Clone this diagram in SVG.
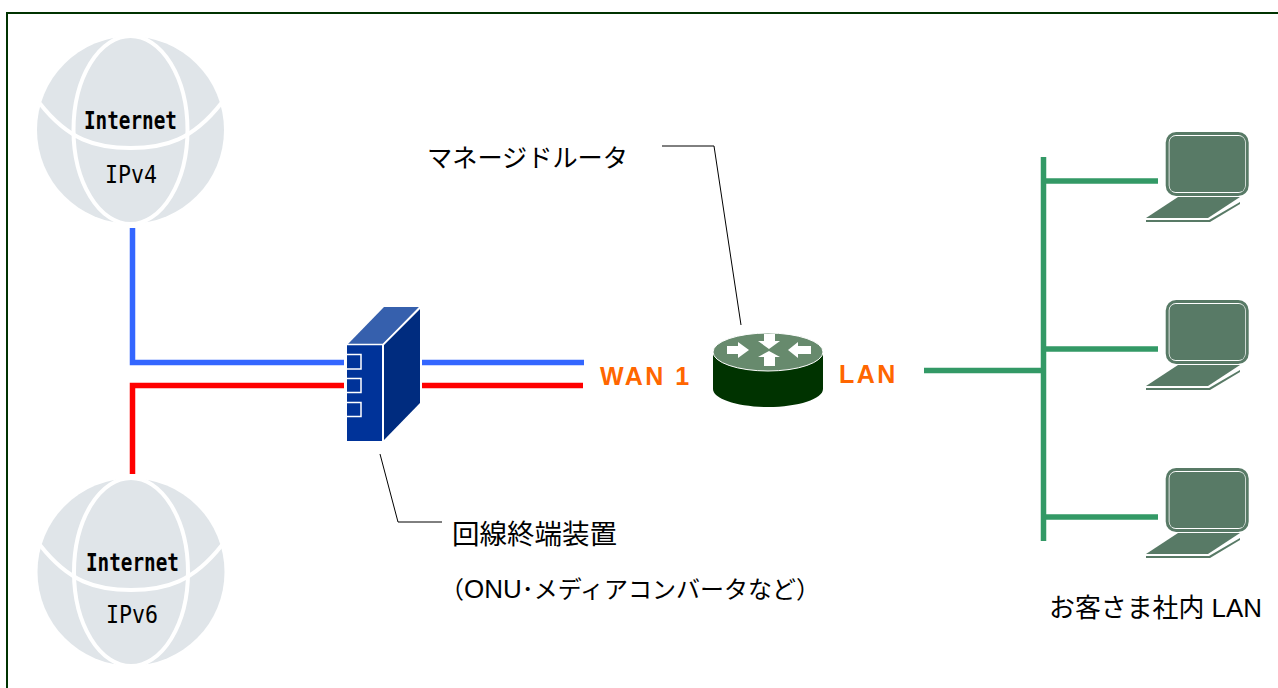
<svg xmlns="http://www.w3.org/2000/svg" width="1278" height="688" viewBox="0 0 1278 688">
<style>
text{font-family:"Liberation Sans","Noto Sans CJK JP",sans-serif;fill:#000}
.g{fill:#e0e5e9;stroke:none}
.w{fill:none;stroke:#fff;stroke-width:4}
.net{font-family:"DejaVu Sans Mono",monospace;font-size:24.500px;font-weight:700}
.ip{font-family:"DejaVu Sans Mono",monospace;font-size:24.500px}
.or{font-size:25px;font-weight:700;fill:#ff6600;letter-spacing:2.500px}
.ln{fill:none;stroke-width:5.500}
.call{fill:none;stroke:#000;stroke-width:1}
.scr{fill:#587a66}
</style>
<defs>
<g id="globe">
<circle class="g" cx="0" cy="0" r="93.500"/>
<ellipse class="w" cx="0" cy="0" rx="57" ry="94"/>
<path class="w" d="M-91-27C-62 10-35 18 0 18S62 10 91-27"/>
</g>
<g id="laptop">
<rect x="1167.200" y="133.500" width="80" height="61" rx="9" fill="none" stroke="#587a66" stroke-width="3"/>
<rect x="1169.500" y="136" width="75.500" height="56" rx="6" class="scr"/>
<path class="scr" d="M1178 197H1240L1208 218H1146Z"/>
<path class="scr" d="M1146 220H1209L1240 202V204L1210 222H1146Z"/>
</g>
</defs>
<rect x="7" y="13" width="1290" height="700" fill="#fff" stroke="#003300" stroke-width="2"/>
<g id="connectors">
<path class="ln" stroke="#3366ff" d="M132.500 228V362.500H344"/>
<path class="ln" stroke="#ff0000" d="M132.500 474V385.500H344"/>
<path class="ln" stroke="#3366ff" d="M422 362.500H584"/>
<path class="ln" stroke="#ff0000" d="M422 385.500H583"/>
<path class="ln" stroke="#339966" d="M924 370.500H1043M1043.500 157V541M1043 181H1158M1043 349H1158M1043 517H1158"/>
<path class="call" d="M662 146H714L741 325"/>
<path class="call" d="M380 454L398 522H442"/>
</g>
<g id="internet-v4">
<use href="#globe" x="130.500" y="130"/>
<text class="net" x="84" y="129" textLength="93" lengthAdjust="spacingAndGlyphs">Internet</text>
<text class="ip" x="105" y="183" textLength="52" lengthAdjust="spacingAndGlyphs">IPv4</text>
</g>
<g id="internet-v6">
<use href="#globe" x="131" y="572"/>
<text class="net" x="86" y="571" textLength="93" lengthAdjust="spacingAndGlyphs">Internet</text>
<text class="ip" x="106" y="623" textLength="52" lengthAdjust="spacingAndGlyphs">IPv6</text>
</g>
<g id="onu">
<path d="M348 344L384 307H419L383 344Z" fill="#3660ad"/>
<path d="M384 345L420 309V403L384 440Z" fill="#002c7f"/>
<rect x="347" y="345" width="35" height="96" fill="#003399"/>
<g fill="none" stroke="#fff" stroke-width="1.500"><path d="M347 354.500H361V369H347"/><path d="M347 378.500H361V392.500H347"/><path d="M347 402.500H361V416.500H347"/></g>
<path d="M347 344.500H383L419.500 308M383 345V441" fill="none" stroke="#fff" stroke-width="1.500"/>
<text x="452" y="544" font-size="27.500">回線終端装置</text>
<text x="440" y="598" font-size="24">（<tspan font-size="26">ONU</tspan>･メディアコンバータなど）</text>
</g>
<g id="router">
<path d="M713 352V389C713 399 738 407 768 407S823 399 823 389V352Z" fill="#003300"/>
<ellipse cx="768" cy="352" rx="55" ry="19" fill="#678a6d" stroke="#fff" stroke-width="1"/>
<g fill="#fff"><path d="M727 346H738V342L749 350L738 358V354H727Z"/><path d="M811 346H798V342L788 350L798 358V354H811Z"/><path d="M764 334H775V341H780L769 349L758 341H764Z"/><path d="M764 366H775V357H780L769 351L758 357H764Z"/></g>
<text x="427" y="167" font-size="25.200">マネージドルータ</text>
</g>
<text class="or" x="600" y="385">WAN 1</text>
<text class="or" x="839" y="383">LAN</text>
<g id="pc1"><use href="#laptop"/></g>
<g id="pc2"><use href="#laptop" y="168"/></g>
<g id="pc3"><use href="#laptop" y="336"/></g>
<text x="1049" y="617" font-size="25.900">お客さま社内 LAN</text>
</svg>
